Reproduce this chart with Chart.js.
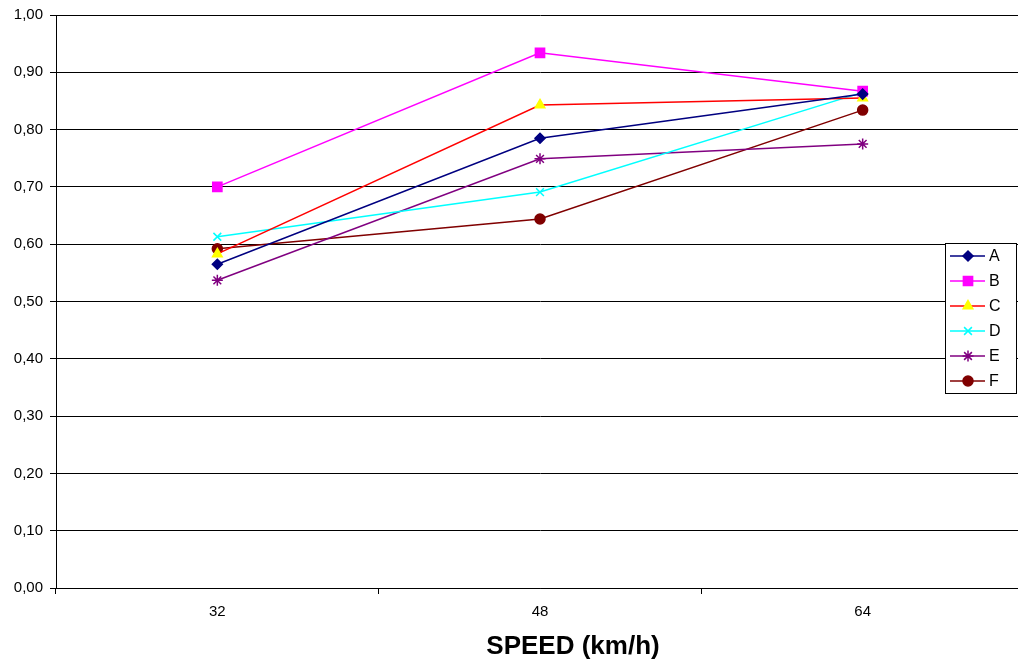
<!DOCTYPE html>
<html>
<head>
<meta charset="utf-8">
<script src="https://cdn.jsdelivr.net/npm/chart.js@4/dist/chart.umd.min.js"></script>
<style>
html,body{margin:0;padding:0;background:#fff;overflow:hidden;}
#wrap{width:1018px;height:664px;position:relative;overflow:hidden;}
#c{position:absolute;left:0;top:0;}
</style>
</head>
<body>
<div id="wrap"><canvas id="c" width="1032" height="664"></canvas></div>
<script>
const categories = ['32', '48', '64'];
const seriesA = [0.565, 0.785, 0.862];
const seriesB = [0.700, 0.934, 0.867];
const seriesC = [0.583, 0.843, 0.855];
const seriesD = [0.613, 0.691, 0.865];
const seriesE = [0.537, 0.749, 0.775];
const seriesF = [0.592, 0.644, 0.834];
const yTicks = [0, 0.1, 0.2, 0.3, 0.4, 0.5, 0.6, 0.7, 0.8, 0.9, 1.0];
const xTitle = 'SPEED (km/h)';

function ds(label, data, line, fill, style, r) {
  return {label, data, borderColor: line, backgroundColor: fill, pointBackgroundColor: fill,
    pointBorderColor: fill, pointStyle: style, pointRadius: r, pointHoverRadius: r,
    borderWidth: 1.5, pointBorderWidth: 1.5, tension: 0, fill: false};
}
const datasets = [
  ds('A', seriesA, '#000080', '#000080', 'rectRot', 5),
  ds('B', seriesB, '#FF00FF', '#FF00FF', 'rect', 6.5),
  ds('C', seriesC, '#FF0000', '#FFFF00', 'triangle', 5.5),
  ds('D', seriesD, '#00FFFF', '#00FFFF', 'crossRot', 5.5),
  ds('E', seriesE, '#800080', '#800080', 'star', 5.5),
  ds('F', seriesF, '#800000', '#800000', 'circle', 5)
];

const customPlugin = {
  id: 'custom',
  afterDraw(chart) {
    const ctx = chart.ctx;
    ctx.save();
    ctx.fillStyle = '#000';
    ctx.font = 'bold 26px "Liberation Sans", Arial, sans-serif';
    ctx.textAlign = 'center';
    ctx.textBaseline = 'middle';
    ctx.fillText(xTitle, 573, 647);
    const bx = 945.5, by = 243.5, bw = 71, bh = 150;
    ctx.fillStyle = '#fff';
    ctx.fillRect(bx, by, bw, bh);
    ctx.strokeStyle = '#000';
    ctx.lineWidth = 1;
    ctx.strokeRect(bx, by, bw, bh);
    ctx.font = '16px "Liberation Sans", Arial, sans-serif';
    ctx.textAlign = 'left';
    ctx.textBaseline = 'middle';
    const helpers = Chart.helpers;
    chart.data.datasets.forEach((d, i) => {
      const y = 256 + i * 25;
      ctx.strokeStyle = d.borderColor;
      ctx.lineWidth = 1.5;
      ctx.beginPath();
      ctx.moveTo(950, y);
      ctx.lineTo(985, y);
      ctx.stroke();
      ctx.fillStyle = d.pointBackgroundColor;
      ctx.strokeStyle = d.pointBorderColor;
      if (helpers && helpers.drawPoint) {
        helpers.drawPoint(ctx, {pointStyle: d.pointStyle, radius: d.pointRadius, borderWidth: 1.5, rotation: 0}, 968, y);
      }
      ctx.fillStyle = '#000';
      ctx.fillText(d.label, 989, y + 1);
    });
    ctx.restore();
  }
};

new Chart(document.getElementById('c'), {
  type: 'line',
  data: {labels: categories, datasets},
  options: {
    responsive: false,
    animation: false,
    layout: {padding: {top: 15, right: 0, left: 0, bottom: 0}},
    plugins: {legend: {display: false}, tooltip: {enabled: false}},
    scales: {
      x: {
        offset: true,
        grid: {display: true, offset: true, drawOnChartArea: false, drawTicks: true, tickLength: 6, color: '#000'},
        border: {display: true, color: '#000', width: 1},
        ticks: {color: '#000', font: {family: '"Liberation Sans", Arial, sans-serif', size: 15}, padding: 9},
        afterFit(s) { s.height = 76; s.paddingLeft = 0; s.paddingRight = 0; }
      },
      y: {
        min: 0, max: 1,
        afterBuildTicks(s) { s.ticks = yTicks.map(v => ({value: v})); },
        grid: {color: '#000', lineWidth: 1, tickLength: 6, drawTicks: true},
        border: {display: true, color: '#000', width: 1},
        ticks: {color: '#000', font: {family: '"Liberation Sans", Arial, sans-serif', size: 15}, padding: 7,
          callback: v => Number(v).toFixed(2).replace('.', ',')},
        afterFit(s) { s.width = 56; s.paddingTop = 0; s.paddingBottom = 0; }
      }
    }
  },
  plugins: [customPlugin]
});
</script>
</body>
</html>
